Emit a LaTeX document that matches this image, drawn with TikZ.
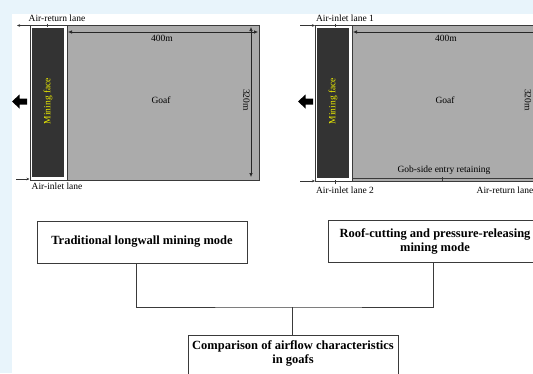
\documentclass[tikz,border=0pt]{standalone}
\usepackage{fontspec}
\setmainfont{Liberation Serif}
\usetikzlibrary{arrows.meta}

\definecolor{pagebg}{HTML}{E8F4FB}
\definecolor{faceblk}{HTML}{333333}
\definecolor{goafgray}{HTML}{ABABAB}
\definecolor{edgegray}{HTML}{3A3A3A}
\definecolor{faceyel}{HTML}{F0F000}

\begin{document}
\begin{tikzpicture}[x=1pt, y=-1pt,
    lbl/.style={font=\fontsize{9.5}{10}\selectfont, inner sep=0pt},
    dim/.style={{Latex[length=4pt,width=3.5pt]}-{Latex[length=4pt,width=3.5pt]}, line width=0.6pt, black!85},
    airflow/.style={-{Stealth[length=3pt,width=2.5pt]}, line width=0.4pt, black!80},
    modebox/.style={draw=edgegray, line width=0.8pt, fill=white, align=center,
      font=\fontsize{12.5}{14.5}\selectfont\bfseries}]

                % Page (light blue margin)
                \useasboundingbox (0,0) rectangle (533,373);
                \clip (0,0) rectangle (533,373);
                \fill[pagebg] (0,0) rectangle (533,373);
                \fill[white] (12,14) rectangle (533,373);

                % Left panel - traditional longwall (Dark face, Gray goaf)
                \draw[edgegray, line width=0.6pt, fill=white] (30,25) rectangle (259,180);
                \fill[faceblk] (31.5,27.5) rectangle (64,177);
                \filldraw[fill=goafgray, draw=edgegray, line width=0.5pt] (67,25) rectangle (259,180);
                \draw[dim] (68,32) -- (258,32);
                \draw[dim] (251,27) -- (251,177);
                \draw[airflow] (30,25.5) -- (17,25.5);
                \draw[airflow] (16,179) -- (29.5,179);
                \draw[edgegray, line width=0.4pt] (47,23.5) -- (47,27);
                \fill[black] (12,101.5) -- (19.5,94.5) -- (19.5,98.5) -- (27,98.5) -- (27,104.5) -- (19.5,104.5) -- (19.5,108.5) -- cycle;

                \node[lbl] (retL) at (57,18.5) {Air-return lane};
                \node[lbl] (inL) at (57,186.5) {Air-inlet lane};
                \node[lbl] (lenL) at (162,38) {400m};
                \node[lbl, rotate=-90] (widL) at (246.5,100) {320m};
                \node[lbl] (goafL) at (161,100) {Goaf};
                \node[lbl, rotate=90, text=faceyel] (faceL) at (48,101) {Mining face};

                % Right panel - roof cutting (gob-side entry along the bottom)
                \draw[edgegray, line width=0.6pt, fill=white] (315,25) rectangle (545,181);
                \fill[faceblk] (316.5,27.5) rectangle (349,178);
                \filldraw[fill=goafgray, draw=edgegray, line width=0.5pt] (352,25) rectangle (545,181);
                \draw[edgegray, line width=0.5pt] (352,178) -- (545,178);
                \draw[dim] (353,32) -- (543,32);
                \draw[dim] (536,27) -- (536,176);
                \draw[airflow] (300,25.5) -- (315,25.5);
                \draw[airflow] (300,181) -- (315,181);
                \draw[edgegray, line width=0.4pt] (335,23.5) -- (335,27);
                \draw[edgegray, line width=0.4pt] (335,180) -- (335,183.5);
                \draw[edgegray, line width=0.4pt] (442,177) -- (442,181);
                \fill[black] (298,101.5) -- (305.5,94.5) -- (305.5,98.5) -- (313,98.5) -- (313,104.5) -- (305.5,104.5) -- (305.5,108.5) -- cycle;

                \node[lbl] (inR1) at (345,18.5) {Air-inlet lane 1};
                \node[lbl] (inR2) at (345,190) {Air-inlet lane 2};
                \node[lbl] (retR) at (505,190) {Air-return lane};
                \node[lbl] (lenR) at (446,38) {400m};
                \node[lbl, rotate=-90] (widR) at (528,100) {320m};
                \node[lbl] (goafR) at (445,100) {Goaf};
                \node[lbl] (gobR) at (444,170) {Gob-side entry retaining};
                \node[lbl, rotate=90, text=faceyel] (faceR) at (333,101) {Mining face};

                % Mode boxes
                \node[modebox, minimum width=210pt, minimum height=42pt] (trad) at (142,242) {Traditional longwall mining mode};
                \node[modebox, minimum width=214pt, minimum height=42pt] (roof) at (435,241.5) {Roof-cutting and pressure-releasing\\mining mode};
                \node[modebox, minimum width=210pt, anchor=north, inner ysep=5pt, text depth=30pt] (comp) at (293,335) {Comparison of airflow characteristics\\in goafs};

                % Tree lines
                \coordinate (split) at (292,307);
                \draw[edgegray, line width=0.8pt] ([xshift=-6pt]trad.south) |- (split) -| ([xshift=-2pt]roof.south);
                \draw[edgegray, line width=0.8pt] (split) -- (comp.north -| split);
            \end{tikzpicture}
\end{document}
